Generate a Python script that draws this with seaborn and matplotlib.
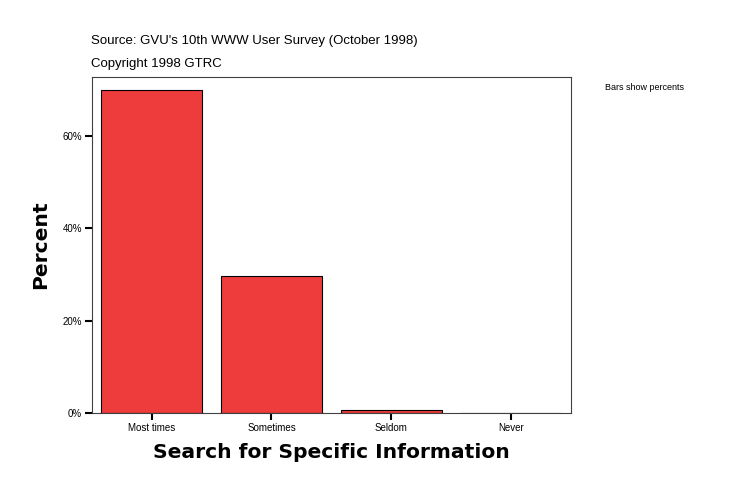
import pandas as pd
import matplotlib
matplotlib.use('Agg')
import matplotlib.pyplot as plt
import matplotlib.ticker as mtick
import seaborn as sns

categories = ['Most times', 'Sometimes', 'Seldom', 'Never']
percents = [69.8, 29.6, 0.6, 0.0]
y_ticks = [0, 20, 40, 60]

df = pd.DataFrame({'answer': categories, 'percent': percents})

sns.set_style('white')
plt.rcParams['font.family'] = ['Liberation Sans', 'DejaVu Sans']
plt.rcParams['text.color'] = 'black'
plt.rcParams['axes.labelcolor'] = 'black'

fig = plt.figure(figsize=(7.34, 4.96), dpi=100)
ax = fig.add_axes([0.125, 0.167, 0.653, 0.678])

sns.barplot(data=df, x='answer', y='percent', color='#EE3B3B', saturation=1,
            edgecolor='black', linewidth=0.8, width=0.84, ax=ax)

ax.set_xlim(-0.5, 3.5)
ax.set_ylim(0, 72.7)
ax.set_yticks(y_ticks)
ax.yaxis.set_major_formatter(mtick.FuncFormatter(lambda v, _: '{:.0f}%'.format(v)))
ax.tick_params(axis='both', bottom=True, left=True, direction='out', length=5, width=1.5,
               labelsize=7, color='black', labelcolor='black', pad=2)
for s in ax.spines.values():
    s.set_linewidth(0.8)
    s.set_color('#404040')

ax.set_xlabel('Search for Specific Information', fontsize=14.6, fontweight='heavy',
              family='DejaVu Sans', labelpad=7)
ax.set_ylabel('Percent', fontsize=14.6, fontweight='heavy', family='DejaVu Sans', labelpad=9)

fig.text(0.124, 0.918, "Source: GVU's 10th WWW User Survey (October 1998)", fontsize=9.5, va='center')
fig.text(0.124, 0.871, 'Copyright 1998 GTRC', fontsize=9.5, va='center')
fig.text(0.824, 0.824, 'Bars show percents', fontsize=6.5, va='center')

fig.savefig('out.png', dpi=100)
